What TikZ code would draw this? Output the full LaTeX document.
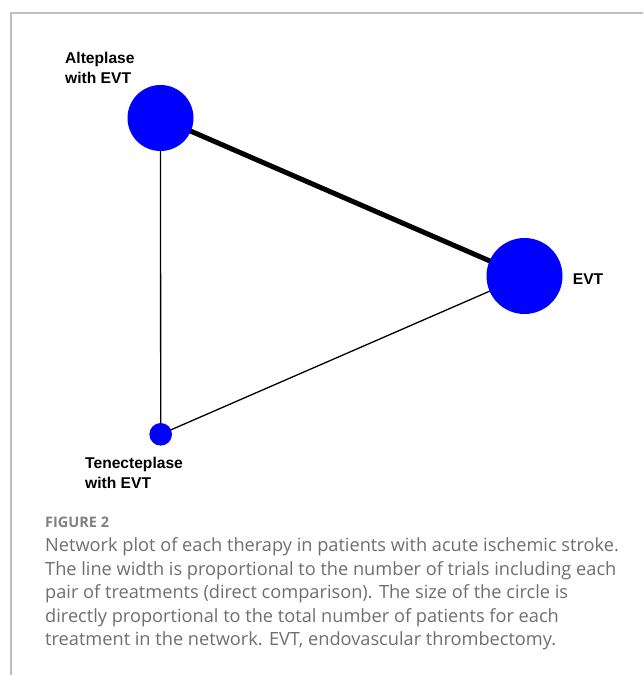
\documentclass[tikz,border=0pt]{standalone}
\usepackage{fontspec}
\usetikzlibrary{backgrounds}
\newfontfamily\labelfont{Liberation Sans}
\newfontfamily\capfont{Open Sans}
\definecolor{framegray}{HTML}{BFBFBF}
\definecolor{capgray}{HTML}{6E6E6E}
\definecolor{figgray}{HTML}{808080}
\begin{document}
\begin{tikzpicture}[x=1pt,y=-1pt,
  treat/.style={circle,fill=blue,inner sep=0pt},
  lbl/.style={font=\labelfont\bfseries\fontsize{15.6}{20}\selectfont,align=left,inner sep=0pt,anchor=base west},
  figlbl/.style={font=\capfont\bfseries\fontsize{14.5}{18}\selectfont,text=figgray,inner sep=0pt,anchor=base west},
  captext/.style={font=\capfont\fontsize{18.2}{23.5}\selectfont,text=capgray,align=left,inner sep=0pt,anchor=base west}]
\useasboundingbox (0,0) rectangle (643,675);
%%% frame of the figure
\draw[framegray,line width=1.5pt] (11,675) -- (11,13) -- (643,13);
%%% the treatments, size ~ number of patients
\node[treat,minimum size=66pt] (alt) at (160.5,118) {};
\node[treat,minimum size=76pt] (evt) at (524.5,276) {};
\node[treat,minimum size=22.6pt] (tnk) at (160.7,434.3) {};
%%% the direct comparisons, width ~ number of trials
\begin{scope}[on background layer]
\draw[line width=5pt] (alt.center) -- (evt.center);
\draw[line width=1.3pt] (alt.center) -- (tnk.center);
\draw[line width=1.3pt] (tnk.center) -- (evt.center);
\end{scope}
%%% labels (base = last line)
\node[lbl] (altlbl) at (65,83.3) {Alteplase\\with EVT};
\node[lbl] (evtlbl) at (572.7,284) {EVT};
\node[lbl] (tnklbl) at (85,488.3) {Tenecteplase\\with EVT};
%%% caption
\node[figlbl] (fig) at (45,527.3) {FIGURE 2};
\node[captext] (caption) at (45,645.7) {Network plot of each therapy in patients with acute ischemic stroke.\\
The line width is proportional to the number of trials including each\\
pair of treatments (direct comparison). The size of the circle is\\
directly proportional to the total number of patients for each\\
treatment in the network. EVT, endovascular thrombectomy.};
\end{tikzpicture}
\end{document}
